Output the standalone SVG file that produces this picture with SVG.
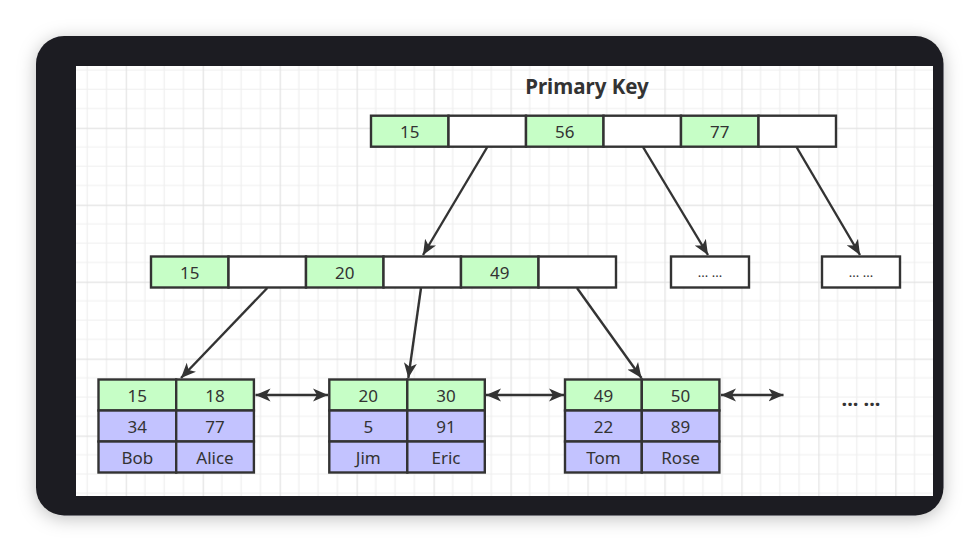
<svg xmlns="http://www.w3.org/2000/svg" width="980" height="552" viewBox="0 0 980 552">
<defs>
<style>
.t{font-family:"Noto Sans","Liberation Sans",sans-serif;font-size:17px;fill:#333;text-anchor:middle}
.g{fill:#c6fec6;stroke:#333;stroke-width:2.4}
.p{fill:#c3c3ff;stroke:#333;stroke-width:2.4}
.w{fill:#fff;stroke:#333;stroke-width:2.4}
.c{fill:none;stroke:#333;stroke-width:2.4}
</style>
<pattern id="grid" patternUnits="userSpaceOnUse" x="125.7" y="127.7" width="76.96" height="76.96">
<rect width="76.96" height="76.96" fill="#fff"/>
<path d="M19.24 0V76.96M38.48 0V76.96M57.72 0V76.96M0 19.24H76.96M0 38.48H76.96M0 57.72H76.96" stroke="#efefef" stroke-width="1.2"/>
<path d="M0.5 0V76.96M0 0.5H76.96" stroke="#e3e3e3" stroke-width="1.4"/>
</pattern>
<filter id="sh" x="-10%" y="-15%" width="120%" height="130%">
<feDropShadow dx="0" dy="3" stdDeviation="9" flood-color="#000" flood-opacity="0.25"/>
</filter>
<marker id="ar" markerUnits="userSpaceOnUse" markerWidth="18" markerHeight="14" refX="15" refY="7" orient="auto-start-reverse" viewBox="0 0 18 14">
<path d="M0 0.5L15 7L0 13.5L4 7Z" fill="#333"/>
</marker>
</defs>
<rect width="980" height="552" fill="#fff"/>
<g id="frame">
<rect x="36" y="36" width="907.5" height="479.5" rx="28" fill="#1c1c21" filter="url(#sh)"/>
<rect x="76" y="66" width="857" height="430" fill="url(#grid)"/>
</g>
<g id="title"><text x="587" y="94" style="font-family:'Noto Sans','Liberation Sans',sans-serif;font-size:20.5px;font-weight:bold;fill:#333;text-anchor:middle">Primary Key</text></g>
<g id="connectors">
<line class="c" x1="487.3" y1="147" x2="423" y2="255" marker-end="url(#ar)"/>
<line class="c" x1="643" y1="147" x2="708" y2="255" marker-end="url(#ar)"/>
<line class="c" x1="796.5" y1="147" x2="860" y2="255" marker-end="url(#ar)"/>
<line class="c" x1="267.3" y1="288" x2="181" y2="378" marker-end="url(#ar)"/>
<line class="c" x1="421" y1="288" x2="408.3" y2="378" marker-end="url(#ar)"/>
<line class="c" x1="577" y1="288" x2="641.5" y2="378" marker-end="url(#ar)"/>
<line class="c" x1="255.5" y1="395" x2="328" y2="395" marker-start="url(#ar)" marker-end="url(#ar)"/>
<line class="c" x1="486" y1="395" x2="564" y2="395" marker-start="url(#ar)" marker-end="url(#ar)"/>
<line class="c" x1="721" y1="395" x2="783.5" y2="395" marker-start="url(#ar)" marker-end="url(#ar)"/>
</g>
<g id="root">
<rect class="g" x="371" y="115.7" width="77.5" height="31"/>
<rect class="w" x="448.5" y="115.7" width="77.5" height="31"/>
<rect class="g" x="526" y="115.7" width="77.5" height="31"/>
<rect class="w" x="603.5" y="115.7" width="77.5" height="31"/>
<rect class="g" x="681" y="115.7" width="77.5" height="31"/>
<rect class="w" x="758.5" y="115.7" width="77.5" height="31"/>
<text class="t" x="409.8" y="137.5">15</text>
<text class="t" x="564.8" y="137.5">56</text>
<text class="t" x="719.8" y="137.5">77</text>
</g>
<g id="internal">
<rect class="g" x="151" y="256.5" width="77.5" height="31"/>
<rect class="w" x="228.5" y="256.5" width="77.5" height="31"/>
<rect class="g" x="306" y="256.5" width="77.5" height="31"/>
<rect class="w" x="383.5" y="256.5" width="77.5" height="31"/>
<rect class="g" x="461" y="256.5" width="77.5" height="31"/>
<rect class="w" x="538.5" y="256.5" width="77.5" height="31"/>
<text class="t" x="189.8" y="278.5">15</text>
<text class="t" x="344.8" y="278.5">20</text>
<text class="t" x="499.8" y="278.5">49</text>
</g>
<g id="more1">
<rect class="w" x="671" y="256.5" width="78" height="31"/>
<text class="t" x="710" y="277" style="font-size:13px">... ...</text>
</g>
<g id="more2">
<rect class="w" x="822" y="256.5" width="78" height="31"/>
<text class="t" x="861" y="277" style="font-size:13px">... ...</text>
</g>
<g id="leaf1">
<rect class="g" x="98.5" y="379.5" width="77.7" height="31"/>
<rect class="g" x="176.2" y="379.5" width="77.7" height="31"/>
<rect class="p" x="98.5" y="410.5" width="77.7" height="31"/>
<rect class="p" x="176.2" y="410.5" width="77.7" height="31"/>
<rect class="p" x="98.5" y="441.5" width="77.7" height="31"/>
<rect class="p" x="176.2" y="441.5" width="77.7" height="31"/>
<text class="t" x="137.3" y="401.5">15</text>
<text class="t" x="215" y="401.5">18</text>
<text class="t" x="137.3" y="432.5">34</text>
<text class="t" x="215" y="432.5">77</text>
<text class="t" x="137.3" y="463.5">Bob</text>
<text class="t" x="215" y="463.5">Alice</text>
</g>
<g id="leaf2">
<rect class="g" x="329.3" y="379.5" width="78" height="31"/>
<rect class="g" x="407.3" y="379.5" width="77.5" height="31"/>
<rect class="p" x="329.3" y="410.5" width="78" height="31"/>
<rect class="p" x="407.3" y="410.5" width="77.5" height="31"/>
<rect class="p" x="329.3" y="441.5" width="78" height="31"/>
<rect class="p" x="407.3" y="441.5" width="77.5" height="31"/>
<text class="t" x="368.3" y="401.5">20</text>
<text class="t" x="446" y="401.5">30</text>
<text class="t" x="368.3" y="432.5">5</text>
<text class="t" x="446" y="432.5">91</text>
<text class="t" x="368.3" y="463.5">Jim</text>
<text class="t" x="446" y="463.5">Eric</text>
</g>
<g id="leaf3">
<rect class="g" x="565" y="379.5" width="76.8" height="31"/>
<rect class="g" x="641.8" y="379.5" width="77.6" height="31"/>
<rect class="p" x="565" y="410.5" width="76.8" height="31"/>
<rect class="p" x="641.8" y="410.5" width="77.6" height="31"/>
<rect class="p" x="565" y="441.5" width="76.8" height="31"/>
<rect class="p" x="641.8" y="441.5" width="77.6" height="31"/>
<text class="t" x="603.4" y="401.5">49</text>
<text class="t" x="680.6" y="401.5">50</text>
<text class="t" x="603.4" y="432.5">22</text>
<text class="t" x="680.6" y="432.5">89</text>
<text class="t" x="603.4" y="463.5">Tom</text>
<text class="t" x="680.6" y="463.5">Rose</text>
</g>
<g id="more3">
<text class="t" x="861" y="406" style="font-size:20px;font-weight:bold">... ...</text>
</g>
</svg>
